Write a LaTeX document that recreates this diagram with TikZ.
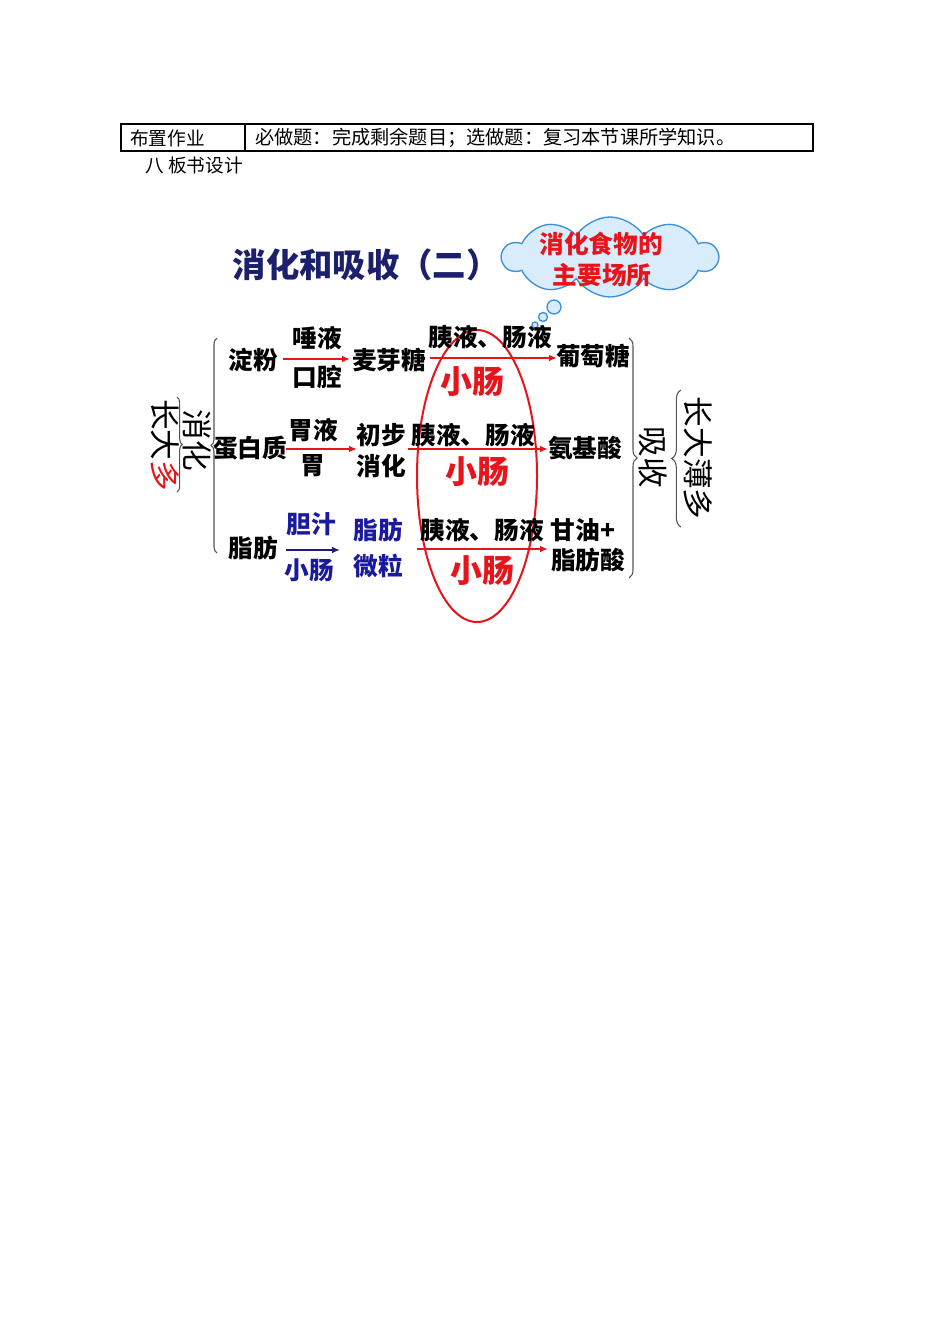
\documentclass[tikz,border=0pt]{standalone}
\usepackage{fontspec}
\setmainfont{Noto Sans CJK SC}
\usetikzlibrary{shapes.symbols,decorations.pathreplacing,arrows.meta}
\definecolor{navy}{HTML}{1C1F6B}
\definecolor{dblue}{HTML}{1A1AA0}
\definecolor{rred}{HTML}{E8141B}
\definecolor{cloudfill}{HTML}{D8ECFC}
\definecolor{cloudline}{HTML}{3B8FDB}
\definecolor{bracegray}{HTML}{555555}
\tikzset{
  tabtxt/.style={font=\fontsize{14}{16}\selectfont, inner sep=0, anchor=west},
  lbl/.style={font=\bfseries\fontsize{18.5}{20}\selectfont, inner sep=0},
  bluelbl/.style={lbl, text=dblue},
  bigred/.style={font=\bfseries\fontsize{24}{26}\selectfont, inner sep=0, text=rred},
  vtxt/.style={font=\fontsize{23}{25}\selectfont, inner sep=0, rotate=-90},
  redarr/.style={draw=rred, line width=1.4pt, -{Latex[length=6pt,width=5pt]}},
  bluearr/.style={draw=navy, line width=1.4pt, -{Latex[length=6pt,width=5pt]}},
  bracestyle/.style={draw=bracegray, line width=0.8pt, decorate},
  bubble/.style={circle, draw=cloudline, fill=cloudfill, line width=1pt, inner sep=0},
}
\begin{document}
\begin{tikzpicture}[x=0.75pt,y=-0.75pt]
\useasboundingbox[fill=white] (0,0) rectangle (950,1344);

% table
\draw[line width=1.5pt] (121,124) rectangle (813,151);
\draw[line width=0.8pt] (245,124) -- (245,151);
\node[tabtxt] (t1) at (130,138) {布置作业};
\node[tabtxt, font=\fontsize{14.4}{16}\selectfont] (t2) at (255,138) {必做题：完成剩余题目；选做题：复习本节课所学知识。};
\node[tabtxt] (h8) at (145,165) {八\ 板书设计};

% title
\node[font=\bfseries\fontsize{25}{27}\selectfont, text=navy, inner sep=0] (title) at (366,265) {消化和吸收（二）};

% cloud
\node[cloud, cloud puffs=10, cloud puff arc=115, aspect=2.8, draw=cloudline, fill=cloudfill,
      line width=1pt, minimum width=215*0.75pt, minimum height=80*0.75pt, inner sep=0] (cloud) at (610,257) {};
\node[bubble, minimum size=14*0.75pt] (b1) at (554,307) {};
\node[bubble, minimum size=9*0.75pt] (b2) at (543,317) {};
\node[bubble, minimum size=6*0.75pt] (b3) at (535,325) {};
\node[font=\bfseries\fontsize{18.5}{20}\selectfont, text=rred, inner sep=0] (c1) at (601,244) {消化食物的};
\node[font=\bfseries\fontsize{18.5}{20}\selectfont, text=rred, inner sep=0] (c2) at (602,275) {主要场所};

% ellipse
\draw[rred, line width=1.5pt] (477,476) ellipse [x radius=60, y radius=146];

% row 1
\node[lbl] (dianfen) at (253,360) {淀粉};
\node[lbl] (tuoye) at (317,338) {唾液};
\node[lbl] (kouqiang) at (317,377) {口腔};
\node[lbl] (maiya) at (389,360) {麦芽糖};
\node[lbl] (yiye1) at (490,337) {胰液、肠液};
\node[bigred] (xc1) at (472,382) {小肠};
\node[lbl] (putao) at (593,356) {葡萄糖};
\coordinate (a1s) at (283,359); \coordinate (a1e) at (350,359);
\coordinate (a2s) at (430,358); \coordinate (a2e) at (557,358);
\draw[redarr] (a1s) -- (a1e);
\draw[redarr] (a2s) -- (a2e);

% row 2
\node[lbl] (danbai) at (250,448) {蛋白质};
\node[lbl] (weiye) at (313,430) {胃液};
\node[lbl] (wei) at (313,466) {胃};
\node[lbl] (chubu) at (381,435) {初步};
\node[lbl] (xiaohua) at (381,466) {消化};
\node[lbl] (yiye2) at (473,435) {胰液、肠液};
\node[bigred] (xc2) at (477,472) {小肠};
\node[lbl] (anji) at (585,448) {氨基酸};
\coordinate (a3s) at (286,449); \coordinate (a3e) at (357,449);
\coordinate (a4s) at (408,449); \coordinate (a4e) at (548,449);
\draw[redarr] (a3s) -- (a3e);
\draw[redarr] (a4s) -- (a4e);

% row 3
\node[lbl] (zhifang) at (253,548) {脂肪};
\node[bluelbl] (danzhi) at (311,524) {胆汁};
\node[bluelbl] (xc3) at (309,570) {小肠};
\node[bluelbl] (zf2) at (378,530) {脂肪};
\node[bluelbl] (weili) at (378,566) {微粒};
\node[lbl] (yiye3) at (482,530) {胰液、肠液};
\node[lbl] (ganyou) at (583,530) {甘油+};
\node[lbl] (zfs) at (588,560) {脂肪酸};
\node[bigred] (xc4) at (482,571) {小肠};
\coordinate (a5s) at (286,550); \coordinate (a5e) at (340,550);
\coordinate (a6s) at (417,549); \coordinate (a6e) at (548,549);
\draw[bluearr] (a5s) -- (a5e);
\draw[redarr] (a6s) -- (a6e);

% left braces & vertical text
\coordinate (lb1) at (217,553); \coordinate (lb2) at (217,338);
\draw[bracestyle, decoration={brace, amplitude=4.5pt}] (lb1) -- (lb2);
\coordinate (sb1) at (177,397); \coordinate (sb2) at (177,492);
\draw[bracestyle, decoration={brace, amplitude=4pt}] (sb1) -- (sb2);
\node[vtxt] (vxh) at (197,440) {消化};
\node[vtxt] (vcd) at (165,445) {长大\textcolor{rred}{多}};

% right braces & vertical text
\coordinate (rb1) at (629,338); \coordinate (rb2) at (629,578);
\draw[bracestyle, decoration={brace, amplitude=6pt}] (rb1) -- (rb2);
\coordinate (rs1) at (681,527); \coordinate (rs2) at (681,390);
\draw[bracestyle, decoration={brace, amplitude=7pt}] (rs1) -- (rs2);
\node[vtxt] (vxs) at (653,457) {吸收};
\node[vtxt] (vcb) at (698,458) {长大薄多};
\end{tikzpicture}
\end{document}
